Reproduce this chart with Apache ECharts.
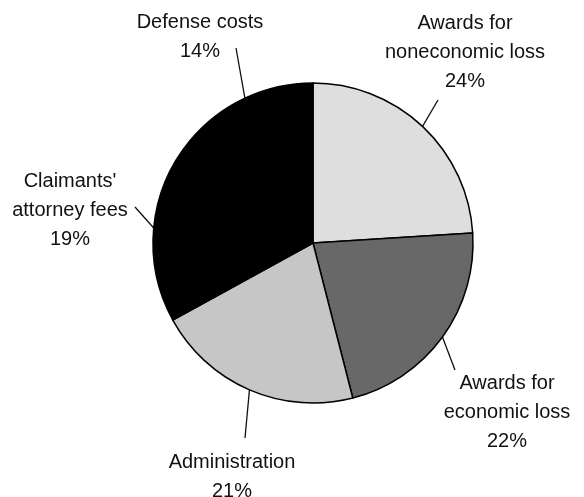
<!DOCTYPE html>
<html><head><meta charset="utf-8">
<script src="https://cdn.jsdelivr.net/npm/echarts@6/dist/echarts.min.js"></script>
<style>html,body{margin:0;padding:0;background:#fff}#c{width:584px;height:497px}</style>
</head><body><div id="c"></div>
<script>
const categories = ['Awards for\nnoneconomic loss', 'Awards for\neconomic loss', 'Administration', "Claimants'\nattorney fees", 'Defense costs'];
const values = [24, 22, 21, 19, 14];
const colors = ['#dedede', '#686868', '#c6c6c6', '#000000', '#000000'];
// label block centres and leader-line ends (layout only)
const labelPos = [[465, 52], [507, 412], [232, 477], [70, 210], [200, 37]];
const lineEnd = [[438, 100], [455, 370], [245, 438], [135, 207], [236, 48]];

const chart = echarts.init(document.getElementById('c'));
chart.setOption({
  backgroundColor: '#fff',
  animation: false,
  series: [{
    type: 'pie',
    center: [313, 243],
    radius: 160,
    startAngle: 90,
    clockwise: true,
    data: categories.map((n, i) => ({ name: n, value: values[i], itemStyle: { color: colors[i] } })),
    itemStyle: { borderColor: '#000', borderWidth: 1.5 },
    label: {
      show: true,
      formatter: p => p.name + '\n' + p.value + '%',
      fontFamily: 'Liberation Sans, Arial, sans-serif',
      fontSize: 20,
      lineHeight: 29,
      color: '#111',
      align: 'center',
      overflow: 'none',
      width: 200
    },
    labelLine: { show: true, lineStyle: { color: '#111', width: 1.3 }, length: 10, length2: 10 },
    labelLayout: function (params) {
      const i = params.dataIndex;
      const start = params.labelLinePoints ? params.labelLinePoints[0] : lineEnd[i];
      return {
        x: labelPos[i][0],
        y: labelPos[i][1],
        align: 'center',
        verticalAlign: 'middle',
        labelLinePoints: [start, lineEnd[i], lineEnd[i]]
      };
    },
    emphasis: { disabled: true }
  }]
});
</script></body></html>
